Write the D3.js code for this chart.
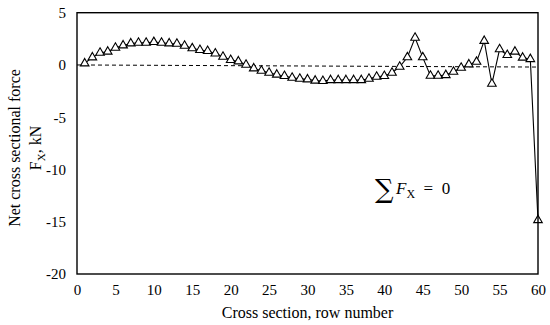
<!DOCTYPE html>
<html>
<head>
<meta charset="utf-8">
<script src="https://cdn.jsdelivr.net/npm/d3@7"></script>
<style>
  body { margin: 0; background: #fff; }
  text { font-family: "Liberation Serif", "Times New Roman", serif; fill: #000; }
</style>
</head>
<body>
<div id="chart"></div>
<script>
// row numbers and net force per row (kN)
var rows = d3.range(1, 61);
var force = [0.15, 0.72, 1.17, 1.27, 1.65, 1.87, 2.06, 2.13, 2.13, 2.19,
             2.13, 2.06, 2.03, 1.84, 1.59, 1.43, 1.33, 1.10, 0.79, 0.47,
             0.34, 0.02, -0.33, -0.55, -0.74, -0.93, -1.06, -1.22, -1.32, -1.38,
             -1.50, -1.54, -1.45, -1.45, -1.45, -1.45, -1.45, -1.32, -1.13, -1.06,
             -0.74, -0.17, 0.73, 2.60, 0.73, -1.03, -1.03, -0.97, -0.65, -0.27,
             0.05, 0.30, 2.30, -1.80, 1.50, 0.95, 1.27, 0.70, 0.56, -14.85];
var xTicks = [0, 5, 10, 15, 20, 25, 30, 35, 40, 45, 50, 55, 60];
var yTicks = [5, 0, -5, -10, -15, -20];
// dashed reference line ends (x, y)
var zeroLine = [[0, 0], [60, -0.2]];

var margin = {top: 12.7, right: 12, bottom: 51, left: 77},
    width = 550 - margin.left - margin.right,
    height = 325 - margin.top - margin.bottom;

var svg = d3.select("#chart")
  .append("svg")
    .attr("width", 550)
    .attr("height", 325)
  .append("g")
    .attr("transform", "translate(" + margin.left + "," + margin.top + ")");

var x = d3.scaleLinear().domain([0, 60]).range([0, width]);
var y = d3.scaleLinear().domain([-20, 5]).range([height, 0]);

// plain hyphen for negatives, like the original
var fmt = function (d) { return String(d); };

// axes without tick marks, labels only
var xAxis = svg.append("g")
  .attr("transform", "translate(0," + height + ")")
  .call(d3.axisBottom(x).tickValues(xTicks).tickFormat(fmt).tickSize(0).tickPadding(10));
var yAxis = svg.append("g")
  .call(d3.axisLeft(y).tickValues(yTicks).tickFormat(fmt).tickSize(0).tickPadding(11));
[xAxis, yAxis].forEach(function (a) {
  a.select(".domain").remove();
  a.selectAll("text").style("font-size", "15px").style("font-family", "Liberation Serif");
});

// dashed zero line
svg.append("path")
  .datum(zeroLine)
  .attr("fill", "none")
  .attr("stroke", "#000")
  .attr("stroke-width", 1)
  .attr("stroke-dasharray", "4,3")
  .attr("d", d3.line().x(function (d) { return x(d[0]); }).y(function (d) { return y(d[1]); }));

// data line
var pts = rows.map(function (r, i) { return [r, force[i]]; });
svg.append("path")
  .datum(pts)
  .attr("fill", "none")
  .attr("stroke", "#000")
  .attr("stroke-width", 1.1)
  .attr("d", d3.line().x(function (d) { return x(d[0]); }).y(function (d) { return y(d[1]); }));

// triangle markers
svg.append("g")
  .selectAll("path")
  .data(pts)
  .enter()
  .append("path")
    .attr("d", d3.symbol().type(d3.symbolTriangle).size(32))
    .attr("transform", function (d) { return "translate(" + x(d[0]) + "," + y(d[1]) + ")"; })
    .attr("fill", "#fff")
    .attr("stroke", "#000")
    .attr("stroke-width", 1.1);

// frame
svg.append("rect")
  .attr("width", width)
  .attr("height", height)
  .attr("fill", "none")
  .attr("stroke", "#000")
  .attr("stroke-width", 1.4);

// axis titles
svg.append("text")
  .attr("text-anchor", "middle")
  .attr("x", width / 2)
  .attr("y", height + 44)
  .style("font-size", "16px")
  .text("Cross section, row number");

var yt = svg.append("text")
  .attr("text-anchor", "middle")
  .attr("transform", "rotate(-90)")
  .attr("x", -(148 - margin.top))
  .style("font-size", "16px");
yt.append("tspan").attr("x", -(148 - margin.top)).attr("y", -57).text("Net cross sectional force");
var l2 = yt.append("tspan").attr("x", -(148 - margin.top)).attr("y", -36);
l2.append("tspan").text("F");
l2.append("tspan").attr("dy", 4).style("font-size", "11px").text("X");
l2.append("tspan").attr("dy", -4).text(", kN");

// annotation
var ann = svg.append("g").attr("transform", "translate(" + (375 - margin.left) + "," + (194 - margin.top) + ")");
ann.append("text").attr("x", 0).attr("y", 4).style("font-family", "DejaVu Serif").style("font-size", "26px").text("\u2211");
var eq = ann.append("text").attr("x", 21).attr("y", 0).style("font-size", "17px");
eq.append("tspan").style("font-style", "italic").text("F");
eq.append("tspan").attr("dy", 4).style("font-size", "12px").text("X");
eq.append("tspan").attr("dy", -4).attr("xml:space", "preserve").text("  =  0");
</script>
</body>
</html>
